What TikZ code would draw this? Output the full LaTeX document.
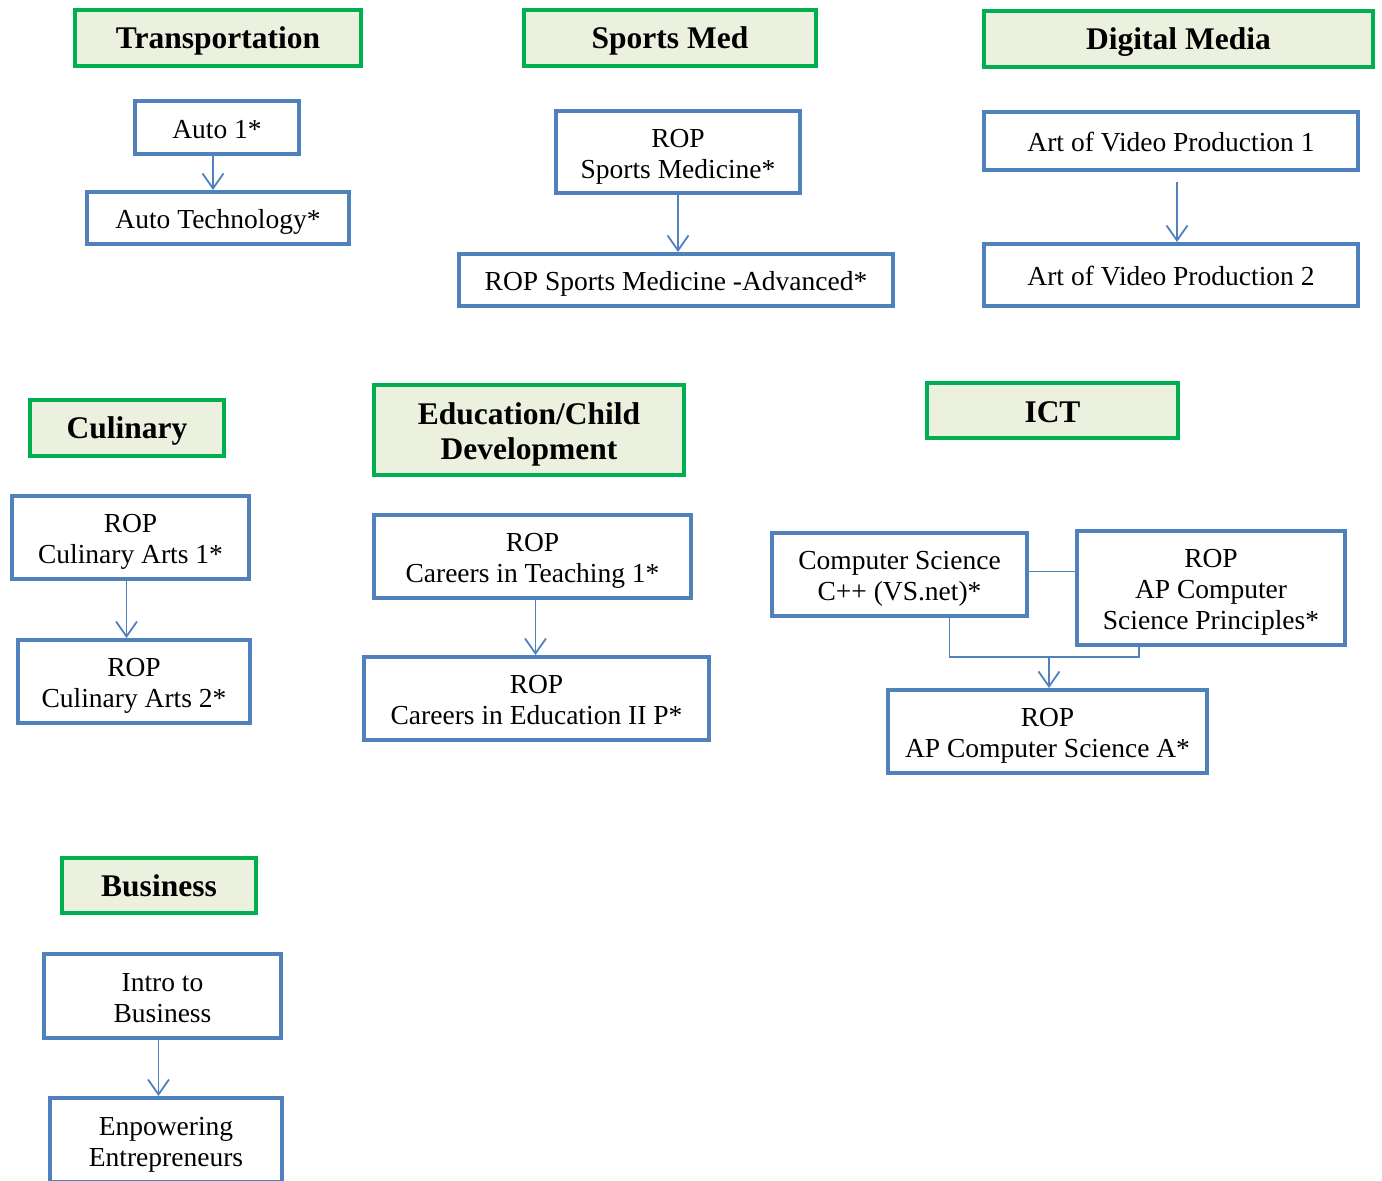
\documentclass[tikz,border=0pt]{standalone}
\usepackage{fontspec}
\setmainfont{Liberation Serif}
\usetikzlibrary{arrows.meta}
\definecolor{bblue}{HTML}{4F81BD}
\definecolor{tgreen}{HTML}{00B050}
\definecolor{tfill}{HTML}{EBF1DE}
\newcommand{\boxtxt}[2][4.5pt]{\raisebox{-#1}[\height][\depth]{\begin{tabular}{@{}c@{}}#2\end{tabular}}}
\tikzset{
  titlebox/.style={draw=tgreen, fill=tfill, line width=4pt, inner sep=0pt,
    font=\fontsize{31.5}{35}\selectfont\bfseries},
  coursebox/.style={draw=bblue, fill=white, line width=4pt, inner sep=0pt,
    font=\fontsize{27.5}{31}\selectfont},
  conn/.style={draw=bblue, line width=1.8pt},
  arr/.style={conn, -{Straight Barb[length=15pt,width=21pt,line width=1.8pt]}},
}
\begin{document}
\begin{tikzpicture}[x=1pt,y=-1pt]
\useasboundingbox (0,0) rectangle (1382,1181);
% titles
\node[titlebox, minimum width=286pt, minimum height=56pt] (trans) at (218,38) {\boxtxt[3.5pt]{Transportation}};
\node[titlebox, minimum width=292pt, minimum height=56pt] (sports) at (670,38) {\boxtxt[3.5pt]{Sports Med}};
\node[titlebox, minimum width=389pt, minimum height=56pt] (digital) at (1178.5,38.5) {\boxtxt[3.5pt]{Digital Media}};
\node[titlebox, minimum width=194pt, minimum height=56pt] (culinary) at (127,428) {\boxtxt[3.5pt]{Culinary}};
\node[titlebox, minimum width=310pt, minimum height=90pt] (edu) at (529,430) {\boxtxt[5pt]{Education/Child\\Development}};
\node[titlebox, minimum width=251pt, minimum height=55pt] (ict) at (1052.5,410.5) {\boxtxt[4.5pt]{ICT}};
\node[titlebox, minimum width=194pt, minimum height=55pt] (business) at (159,885.5) {\boxtxt[4pt]{Business}};
% courses
\node[coursebox, minimum width=164pt, minimum height=53pt] (auto1) at (217,127.5) {\boxtxt{Auto 1*}};
\node[coursebox, minimum width=262pt, minimum height=52pt] (autotech) at (218,218) {\boxtxt{Auto Technology*}};
\node[coursebox, minimum width=244pt, minimum height=82pt] (ropsm) at (678,152) {\boxtxt{ROP\\Sports Medicine*}};
\node[coursebox, minimum width=434pt, minimum height=52pt] (ropsma) at (676,280) {\boxtxt{ROP Sports Medicine -Advanced*}};
\node[coursebox, minimum width=374pt, minimum height=58pt] (avp1) at (1171,141) {\boxtxt{Art of Video Production 1}};
\node[coursebox, minimum width=374pt, minimum height=62pt] (avp2) at (1171,275) {\boxtxt{Art of Video Production 2}};
\node[coursebox, minimum width=237pt, minimum height=83pt] (cul1) at (130.5,537.5) {\boxtxt{ROP\\Culinary Arts 1*}};
\node[coursebox, minimum width=232pt, minimum height=83pt] (cul2) at (134,681.5) {\boxtxt{ROP\\Culinary Arts 2*}};
\node[coursebox, minimum width=317pt, minimum height=83pt] (teach) at (532.5,556.5) {\boxtxt{ROP\\Careers in Teaching 1*}};
\node[coursebox, minimum width=345pt, minimum height=83pt] (edu2) at (536.5,698.5) {\boxtxt{ROP\\Careers in Education II P*}};
\node[coursebox, minimum width=255pt, minimum height=83pt] (cs) at (899.5,574.5) {\boxtxt{Computer Science\\C++ (VS.net)*}};
\node[coursebox, minimum width=268pt, minimum height=114pt] (apcsp) at (1211,588) {\boxtxt{ROP\\AP Computer\\Science Principles*}};
\node[coursebox, minimum width=319pt, minimum height=83pt] (apcsa) at (1047.5,731.5) {\boxtxt{ROP\\AP Computer Science A*}};
\node[coursebox, minimum width=237pt, minimum height=84pt] (intro) at (162.5,996) {\boxtxt{Intro to\\Business}};
\node[coursebox, minimum width=232pt, minimum height=84pt] (enpow) at (166,1140) {\boxtxt{Enpowering\\Entrepreneurs}};
% connectors
\draw[arr] ([xshift=-4pt]auto1.south) -- ([xshift=-4pt]auto1.south |- autotech.north);
\draw[arr] (ropsm.south) -- (ropsm.south |- ropsma.north);
\draw[arr, shorten <=10pt] ([xshift=6pt]avp1.south) -- ([xshift=6pt]avp1.south |- avp2.north);
\draw[arr] ([xshift=-4pt]cul1.south) -- ([xshift=-4pt]cul1.south |- cul2.north);
\draw[arr] ([xshift=3pt]teach.south) -- ([xshift=3pt]teach.south |- edu2.north);
\draw[arr] ([xshift=-4pt]intro.south) -- ([xshift=-4pt]intro.south |- enpow.north);
\coordinate (j) at (1049,657);
\draw[conn] ([yshift=3pt]cs.east) -- ([yshift=3pt]cs.east -| apcsp.west);
\draw[conn] ([xshift=50pt]cs.south) |- (j) -| ([xshift=-72pt]apcsp.south);
\draw[arr] (j) -- (j |- apcsa.north);
\end{tikzpicture}
\end{document}
